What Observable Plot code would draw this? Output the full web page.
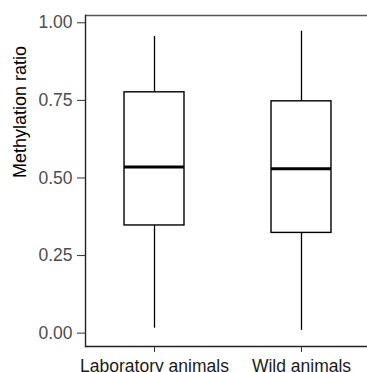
<!DOCTYPE html>
<html>
<head>
<meta charset="utf-8">
<script src="https://cdn.jsdelivr.net/npm/d3@7"></script>
<script src="https://cdn.jsdelivr.net/npm/@observablehq/plot@0.6"></script>
<style>
  html, body { margin: 0; padding: 0; background: #ffffff; }
  #chart svg { display: block; }
</style>
</head>
<body>
<div id="chart"></div>
<script>
// Data
const groups = ["Laboratory animals", "Wild animals"];
const lowerWhisker = [0.016, 0.009];
const q1 = [0.347, 0.323];
const median = [0.535, 0.530];
const q3 = [0.776, 0.747];
const upperWhisker = [0.956, 0.973];
const yTicks = [0, 0.25, 0.5, 0.75, 1];
const yLabel = "Methylation ratio";

const rows = groups.map((g, i) => ({
  group: g,
  lo: lowerWhisker[i],
  q1: q1[i],
  med: median[i],
  q3: q3[i],
  hi: upperWhisker[i]
}));

const yDomain = [-0.043, 1.0235];

const chart = Plot.plot({
  width: 367,
  height: 372,
  marginLeft: 85,
  marginRight: 0,
  marginTop: 15,
  marginBottom: 26,
  style: {
    fontFamily: "'Liberation Sans', Arial, sans-serif",
    fontSize: "17.5px",
    background: "#ffffff",
    overflow: "visible"
  },
  x: {
    type: "band",
    domain: groups,
    range: [37, 418],
    padding: 0.592,
    round: false
  },
  y: {
    domain: yDomain
  },
  marks: [
    // top border line
    Plot.ruleY([yDomain[1]], {stroke: "#555555", strokeWidth: 1.4}),
    // bottom axis line
    Plot.ruleY([yDomain[0]], {stroke: "#222222", strokeWidth: 1.4}),
    // left axis line
    Plot.frame({anchor: "left", stroke: "#222222", strokeWidth: 1.4}),
    // whiskers
    Plot.ruleX(rows, {x: "group", y1: "lo", y2: "q1", stroke: "#000000", strokeWidth: 1.3}),
    Plot.ruleX(rows, {x: "group", y1: "q3", y2: "hi", stroke: "#000000", strokeWidth: 1.3}),
    // boxes
    Plot.barY(rows, {x: "group", y1: "q1", y2: "q3", fill: "#ffffff", stroke: "#000000", strokeWidth: 1.4}),
    // medians
    Plot.tickY(rows, {x: "group", y: "med", stroke: "#000000", strokeWidth: 3}),
    Plot.axisY({
      ticks: yTicks,
      tickFormat: d3.format(".2f"),
      tickSize: 8,
      tickPadding: 5,
      fill: "#4d4d4d",
      stroke: "#333333",
      label: null,
      fontSize: 17.5
    }),
    Plot.axisX({
      tickSize: 6,
      tickPadding: 7,
      fill: "#1a1a1a",
      stroke: "#333333",
      label: null,
      fontSize: 17.5
    }),
    // y axis title
    Plot.text([yLabel], {
      frameAnchor: "left",
      rotate: -90,
      dx: -65,
      dy: -3,
      fontSize: 18,
      fill: "#000000"
    })
  ]
});

document.getElementById("chart").appendChild(chart);
</script>
</body>
</html>
